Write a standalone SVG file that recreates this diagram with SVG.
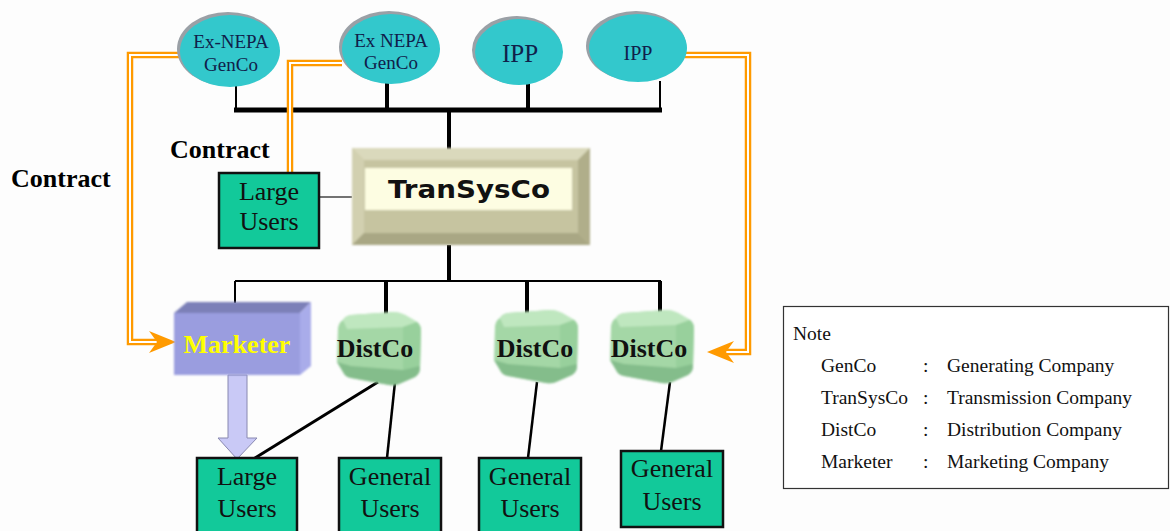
<svg xmlns="http://www.w3.org/2000/svg" xmlns:xlink="http://www.w3.org/1999/xlink" width="1170" height="531" viewBox="0 0 1170 531">
  <style>
    .gen-shadow { fill: #9aa0a6; }
    .gen { fill: #33c8cc; }
    .gen-txt { font-family: "Liberation Serif", serif; fill: #10204a; text-anchor: middle; }
    .user { fill: #12c99a; stroke: #111; stroke-width: 2.5; }
    .user-txt { font-family: "Liberation Serif", serif; font-size: 26px; fill: #111; text-anchor: middle; }
    .dist-txt { font-family: "Liberation Serif", serif; font-size: 26px; font-weight: bold; fill: #111; text-anchor: middle; }
    .label { font-family: "Liberation Serif", serif; font-size: 26px; font-weight: bold; fill: #000; }
    .wire { stroke: #000; fill: none; }
    .pipe-o { stroke: #ff9a00; stroke-width: 6.5; fill: none; stroke-linejoin: miter; }
    .pipe-i { stroke: #ffffff; stroke-width: 2; fill: none; stroke-linejoin: miter; }
    .arrow-o { fill: #ff9a00; }
    .note-txt { font-family: "Liberation Serif", serif; font-size: 19.5px; fill: #111; }
  </style>
  <defs>
    <filter id="soft" x="-10%" y="-10%" width="120%" height="120%">
      <feGaussianBlur stdDeviation="0.8"/>
    </filter>
    <!-- rounded green distribution block -->
    <g id="distBlock" filter="url(#soft)">
      <path d="M6 8 Q8 4 14 3 L56 0 Q62 0 68 3 L80 10 Q84 13 84 19 L83 56 Q83 62 78 65 L62 72 Q58 74 52 73 L14 66 Q8 65 6 60 L0 50 L1 16 Q2 10 6 8 Z" fill="#a4d7a6"/>
      <path d="M6 8 Q8 4 14 3 L56 0 Q62 0 68 3 L80 10 L66 15 L10 17 Z" fill="#bfe7bf"/>
      <path d="M66 15 L80 10 Q84 13 84 19 L83 56 L66 58 Z" fill="#98d09c"/>
      <path d="M0 50 L14 54 L66 58 L83 54 L83 56 Q83 62 78 65 L62 72 Q58 74 52 73 L14 66 Q8 65 6 60 Z" fill="#84bd8b"/>
    </g>
  </defs>

  <rect x="0" y="0" width="1170" height="531" fill="#fdfdfd"/>

  <!-- connectors -->
  <g id="connectors">
    <!-- generator bus -->
    <line class="wire" x1="236" y1="86" x2="236" y2="110" stroke-width="2"/>
    <line class="wire" x1="387" y1="83" x2="387" y2="110" stroke-width="4"/>
    <line class="wire" x1="528" y1="84" x2="528" y2="110" stroke-width="4"/>
    <line class="wire" x1="660" y1="81" x2="660" y2="110" stroke-width="2"/>
    <line class="wire" x1="234" y1="110" x2="662" y2="110" stroke-width="5"/>
    <line class="wire" x1="449" y1="110" x2="449" y2="150" stroke-width="4"/>
    <!-- large users tie to transmission -->
    <line x1="319" y1="197" x2="352" y2="197" stroke="#444" stroke-width="1.5"/>
    <!-- distribution bus -->
    <line class="wire" x1="449" y1="245" x2="449" y2="282" stroke-width="4"/>
    <line class="wire" x1="235" y1="281" x2="661" y2="281" stroke-width="2"/>
    <line class="wire" x1="235" y1="281" x2="235" y2="303" stroke-width="2"/>
    <line class="wire" x1="386" y1="281" x2="386" y2="321" stroke-width="4"/>
    <line class="wire" x1="527" y1="281" x2="527" y2="320" stroke-width="4"/>
    <line class="wire" x1="660" y1="281" x2="660" y2="322" stroke-width="4"/>
    <!-- feeders to users -->
    <line class="wire" x1="378" y1="382" x2="255" y2="458" stroke-width="3"/>
    <line class="wire" x1="395" y1="382" x2="387" y2="458" stroke-width="2.5"/>
    <line class="wire" x1="537" y1="382" x2="528" y2="458" stroke-width="2.5"/>
    <line class="wire" x1="670" y1="382" x2="661" y2="451" stroke-width="2.5"/>
    <!-- contract paths -->
    <path class="pipe-o" d="M180 55 H130 V342 H160"/>
    <path class="pipe-i" d="M180 55 H130 V342 H160"/>
    <polygon class="arrow-o" points="176,342 149,331 157,342 149,353"/>
    <path class="pipe-o" d="M342 63 H290 V173"/>
    <path class="pipe-i" d="M342 63 H290 V173"/>
    <path class="pipe-o" d="M685 55 H748 V352 H722"/>
    <path class="pipe-i" d="M685 55 H748 V352 H722"/>
    <polygon class="arrow-o" points="707,352 734,341 726,352 734,363"/>
    <!-- marketer supply arrow -->
    <path d="M228 375 H247 V438 H257 L237 459 L218 438 H228 Z" fill="#c9c9f6" stroke="#8888b0" stroke-width="1"/>
  </g>

  <!-- generators -->
  <g id="gen-exnepa-1">
    <ellipse class="gen-shadow" cx="228" cy="49" rx="51" ry="37"/>
    <ellipse class="gen" cx="230" cy="51" rx="50" ry="36"/>
    <text class="gen-txt" x="231" y="48" font-size="19">Ex-NEPA</text>
    <text class="gen-txt" x="231" y="71" font-size="19">GenCo</text>
  </g>
  <g id="gen-exnepa-2">
    <ellipse class="gen-shadow" cx="389" cy="47" rx="50" ry="36"/>
    <ellipse class="gen" cx="391" cy="49" rx="49" ry="35"/>
    <text class="gen-txt" x="391" y="47" font-size="19">Ex NEPA</text>
    <text class="gen-txt" x="391" y="69" font-size="19">GenCo</text>
  </g>
  <g id="gen-ipp-1">
    <ellipse class="gen-shadow" cx="517" cy="50" rx="45" ry="34"/>
    <ellipse class="gen" cx="519" cy="52" rx="44" ry="33"/>
    <text class="gen-txt" x="520" y="62" font-size="25">IPP</text>
  </g>
  <g id="gen-ipp-2">
    <ellipse class="gen-shadow" cx="636" cy="46" rx="50" ry="35"/>
    <ellipse class="gen" cx="638" cy="48" rx="49" ry="34"/>
    <text class="gen-txt" x="638" y="60" font-size="20">IPP</text>
  </g>

  <!-- transmission company -->
  <g id="transysco">
    <g filter="url(#soft)">
      <rect x="352" y="148" width="238" height="97" fill="#c6c4a0"/>
      <polygon points="352,148 590,148 578,160 364,160" fill="#dad9bc"/>
      <polygon points="352,148 364,160 364,233 352,245" fill="#d2d0b0"/>
      <polygon points="590,148 590,245 578,233 578,160" fill="#b0ae8a"/>
      <polygon points="352,245 590,245 578,233 364,233" fill="#a9a784"/>
      <rect x="365" y="168" width="207" height="42" fill="#fdfde2"/>
    </g>
    <text x="469" y="198" font-family="'DejaVu Sans', Verdana, sans-serif" font-size="24" font-weight="bold" fill="#111" text-anchor="middle" textLength="162" lengthAdjust="spacingAndGlyphs">TranSysCo</text>
  </g>

  <!-- large users on transmission -->
  <g id="large-users-top">
    <rect class="user" x="219" y="173" width="100" height="75"/>
    <text class="user-txt" x="269" y="200">Large</text>
    <text class="user-txt" x="269" y="230">Users</text>
  </g>

  <!-- marketer -->
  <g id="marketer">
    <g filter="url(#soft)">
      <polygon points="174,313 187,302 311,302 300,313" fill="#7c80b8"/>
      <polygon points="300,313 311,302 311,366 300,375" fill="#a9acea"/>
      <rect x="174" y="313" width="126" height="62" fill="#9a9ddf"/>
    </g>
    <text x="237" y="353" font-family="'Liberation Serif', serif" font-size="26" font-weight="bold" fill="#ffff00" text-anchor="middle">Marketer</text>
  </g>

  <!-- distribution companies -->
  <g id="distco-1">
    <use xlink:href="#distBlock" transform="translate(337,312)"/>
    <text class="dist-txt" x="375" y="357">DistCo</text>
  </g>
  <g id="distco-2">
    <use xlink:href="#distBlock" transform="translate(494,310)"/>
    <text class="dist-txt" x="535" y="357">DistCo</text>
  </g>
  <g id="distco-3">
    <use xlink:href="#distBlock" transform="translate(610,310)"/>
    <text class="dist-txt" x="649" y="357">DistCo</text>
  </g>

  <!-- end users -->
  <g id="large-users-bottom">
    <rect class="user" x="197" y="458" width="100" height="80"/>
    <text class="user-txt" x="247" y="485">Large</text>
    <text class="user-txt" x="247" y="517">Users</text>
  </g>
  <g id="general-users-1">
    <rect class="user" x="339" y="458" width="102" height="80"/>
    <text class="user-txt" x="390" y="485">General</text>
    <text class="user-txt" x="390" y="517">Users</text>
  </g>
  <g id="general-users-2">
    <rect class="user" x="479" y="458" width="102" height="80"/>
    <text class="user-txt" x="530" y="485">General</text>
    <text class="user-txt" x="530" y="517">Users</text>
  </g>
  <g id="general-users-3">
    <rect class="user" x="621" y="451" width="102" height="76"/>
    <text class="user-txt" x="672" y="477">General</text>
    <text class="user-txt" x="672" y="510">Users</text>
  </g>

  <!-- contract labels -->
  <text class="label" x="170" y="158">Contract</text>
  <text class="label" x="11" y="187">Contract</text>

  <!-- legend -->
  <g id="note">
    <rect x="783.5" y="306.5" width="385" height="182" fill="#fff" stroke="#333" stroke-width="1.2"/>
    <text class="note-txt" x="793" y="340">Note</text>
    <text class="note-txt" x="821" y="372">GenCo</text>
    <text class="note-txt" x="923" y="372">:</text>
    <text class="note-txt" x="947" y="372">Generating Company</text>
    <text class="note-txt" x="821" y="404">TranSysCo</text>
    <text class="note-txt" x="923" y="404">:</text>
    <text class="note-txt" x="947" y="404">Transmission Company</text>
    <text class="note-txt" x="821" y="436">DistCo</text>
    <text class="note-txt" x="923" y="436">:</text>
    <text class="note-txt" x="947" y="436">Distribution Company</text>
    <text class="note-txt" x="821" y="468">Marketer</text>
    <text class="note-txt" x="923" y="468">:</text>
    <text class="note-txt" x="947" y="468">Marketing Company</text>
  </g>
</svg>
